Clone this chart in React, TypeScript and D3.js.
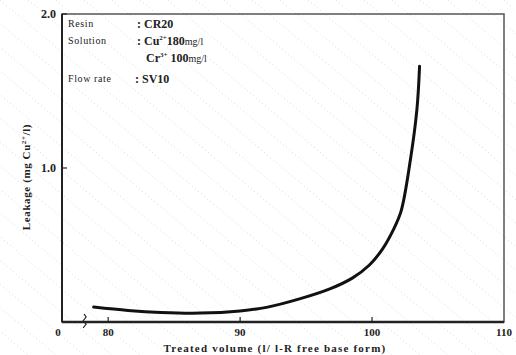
import React from 'react';
import * as d3 from 'd3';

// treated volume (l/l-R) vs leakage (mg Cu2+/l)
const volume = [78.9, 81.5, 84.0, 87.0, 90.0, 92.0, 94.5, 96.8, 98.5, 99.8, 100.8, 101.6, 102.2, 102.9, 103.4, 103.6];
const leakage = [0.097, 0.075, 0.062, 0.058, 0.072, 0.095, 0.15, 0.215, 0.285, 0.37, 0.475, 0.597, 0.72, 1.05, 1.38, 1.66];

const xTicks = [80, 90, 100];
const xLabels = ['80', '90', '100', '110'];
const yTicks = [1.0, 2.0];

const noteLabels = ['Resin', 'Solution', '', 'Flow rate'];

const W = 516;
const H = 355;
const left = 62;
const right = 504;
const top = 14;
const bottom = 322;

const App: React.FC = () => {
  const x = d3.scaleLinear().domain([76.5, 110]).range([left, right]);
  const y = d3.scaleLinear().domain([0, 2]).range([bottom, top]);

  const line = d3
    .line<number>()
    .x((_, i) => x(volume[i]))
    .y(d => y(d))
    .curve(d3.curveCatmullRom.alpha(0.5));

  const serif = '"Liberation Serif", "DejaVu Serif", serif';
  const ink = '#222';

  // faint diagonal scan texture
  const hatch = d3.range(-20, 40).map(i => i * 28);

  return (
    <svg width={W} height={H} style={{ position: 'absolute', left: 0, top: 0, background: '#fff' }}>
      <g stroke="#cfcfcf" strokeWidth={0.8} strokeDasharray="1 3">
        {hatch.map(h => (
          <line key={h} x1={h} y1={0} x2={h + 420} y2={H} />
        ))}
      </g>

      {/* frame */}
      <rect x={left} y={top} width={right - left} height={bottom - top} fill="none" stroke="#555" strokeWidth={1.5} />
      <line x1={left} y1={bottom} x2={right} y2={bottom} stroke={ink} strokeWidth={2.5} />
      <line x1={left} y1={top} x2={left} y2={bottom} stroke={ink} strokeWidth={2} />

      {/* axis break */}
      <path d={`M${x(78.1)},${bottom + 6} l3,-4 l-3,-3 l3,-4 l-2,-3`} fill="none" stroke={ink} strokeWidth={1.2} />

      {/* x ticks */}
      {xTicks.map(t => (
        <line key={t} x1={x(t)} x2={x(t)} y1={bottom} y2={bottom - 5} stroke={ink} strokeWidth={1.2} />
      ))}
      <text x={left - 4} y={bottom + 14} fontFamily={serif} fontSize={11} fontWeight="bold" fill={ink} textAnchor="middle">0</text>
      {[80, 90, 100, 110].map((t, i) => (
        <text key={t} x={x(t)} y={bottom + 14} fontFamily={serif} fontSize={11} fontWeight="bold" fill={ink} textAnchor="middle">
          {xLabels[i]}
        </text>
      ))}

      {/* y ticks */}
      {yTicks.map(t => (
        <g key={t}>
          <line x1={left} x2={left + 5} y1={y(t)} y2={y(t)} stroke={ink} strokeWidth={1.2} />
          <text x={left - 6} y={y(t) + 4} fontFamily={serif} fontSize={12} fontWeight="bold" fill={ink} textAnchor="end">
            {d3.format('.1f')(t)}
          </text>
        </g>
      ))}

      {/* curve */}
      <path d={line(leakage) ?? ''} fill="none" stroke="#111" strokeWidth={3} strokeLinecap="round" />

      {/* conditions */}
      <g fontFamily={serif} fill={ink}>
        <text x={68} y={27} fontSize={10} letterSpacing={0.6}>{noteLabels[0]}</text>
        <text x={137} y={28} fontSize={12} fontWeight="bold">: CR20</text>
        <text x={68} y={44} fontSize={10} letterSpacing={0.6}>{noteLabels[1]}</text>
        <text x={137} y={45} fontSize={12} fontWeight="bold">
          : Cu<tspan fontSize={7} dy={-5}>2+</tspan><tspan dy={5}>180</tspan><tspan fontSize={10} fontWeight="normal">mg/l</tspan>
        </text>
        <text x={146} y={62} fontSize={12} fontWeight="bold">
          Cr<tspan fontSize={7} dy={-5}>3+</tspan><tspan dy={5}> 100</tspan><tspan fontSize={10} fontWeight="normal">mg/l</tspan>
        </text>
        <text x={68} y={82} fontSize={10} letterSpacing={0.6}>{noteLabels[3]}</text>
        <text x={135} y={83} fontSize={12} fontWeight="bold">: SV10</text>
      </g>

      {/* axis titles */}
      <text
        transform={`translate(30,177) rotate(-90)`}
        textAnchor="middle"
        fontFamily={serif}
        fontSize={11}
        fontWeight="bold"
        letterSpacing={0.6}
        fill={ink}
      >
        Leakage (mg Cu<tspan fontSize={7} dy={-4}>2+</tspan><tspan dy={4}>/l)</tspan>
      </text>
      <text x={275} y={352} textAnchor="middle" fontFamily={serif} fontSize={11} fontWeight="bold" letterSpacing={1.2} fill={ink}>
        Treated volume (l/ l-R free base form)
      </text>
    </svg>
  );
};

export default App;
